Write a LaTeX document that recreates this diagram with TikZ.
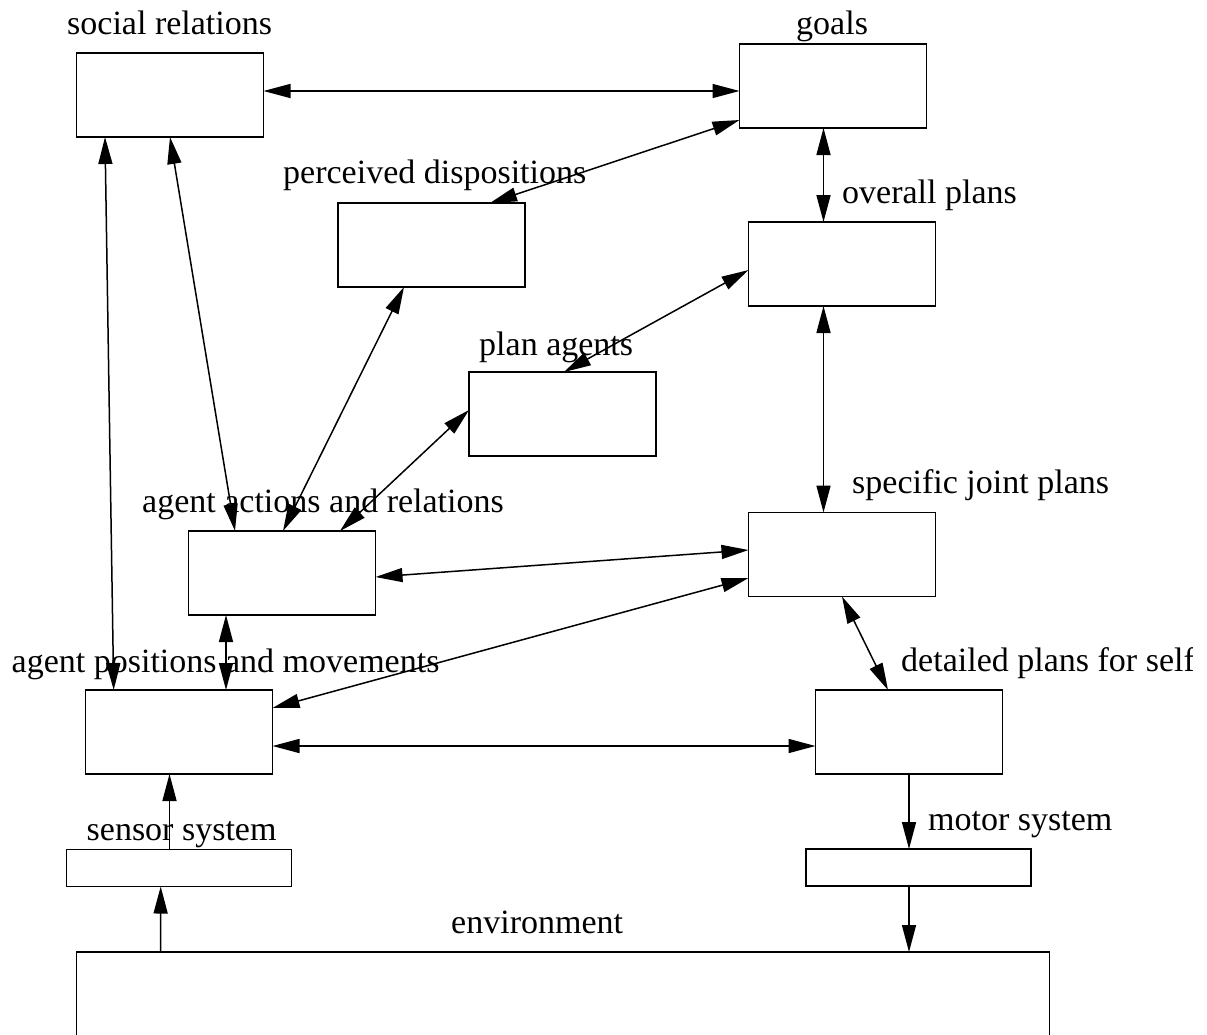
\documentclass[tikz,border=0pt]{standalone}
\usepackage{fontspec}
\setmainfont{Liberation Serif}
\usetikzlibrary{arrows.meta}
\begin{document}
\begin{tikzpicture}[x=1pt,y=-1pt,
  mainbox/.style={draw, line width=1.6pt, minimum width=187pt, minimum height=84pt, inner sep=0pt, outer sep=0pt},
  slimbox/.style={mainbox, minimum width=225pt, minimum height=37pt},
  lbl/.style={anchor=base west, inner sep=0pt, font=\fontsize{34}{40}\selectfont},
  link/.style={line width=1.5pt, {Triangle[length=27pt,width=14pt]}-{Triangle[length=27pt,width=14pt]}},
  one/.style={line width=1.5pt, -{Triangle[length=27pt,width=14pt]}}]
\useasboundingbox (0,0) rectangle (1207,1034);
\fill[white] (0,0) rectangle (1207,1034);
\clip (0,0) rectangle (1192,1034);

% boxes
\node[mainbox] (soc)   at (170,95)    {};
\node[mainbox] (goals) at (833,86)    {};
\node[mainbox] (perc)  at (431.5,245) {};
\node[mainbox] (over)  at (842,264)   {};
\node[mainbox] (plan)  at (562.5,414) {};
\node[mainbox] (spec)  at (842,554.5) {};
\node[mainbox] (act)   at (282,573)   {};
\node[mainbox] (pos)   at (179,732)   {};
\node[mainbox] (det)   at (909,732)   {};
\node[slimbox] (sen)   at (179,868)   {};
\node[slimbox] (mot)   at (918.5,867.5) {};
\node[mainbox, minimum width=973pt, minimum height=148pt] (env) at (563,1026) {};

% labels
\node[lbl] (lsoc)   at (67,34)    {social relations};
\node[lbl] (lgoals) at (796,34)   {goals};
\node[lbl] (lperc)  at (283,183)  {perceived dispositions};
\node[lbl] (lover)  at (842,203)  {overall plans};
\node[lbl] (lplan)  at (479,355)  {plan agents};
\node[lbl] (lact)   at (142,512)  {agent actions and relations};
\node[lbl] (lpos)   at (11.5,672) {agent positions and movements};
\node[lbl] (lspec)  at (852,493)  {specific joint plans};
\node[lbl] (ldet)   at (901,671)  {detailed plans for self};
\node[lbl] (lsen)   at (86.5,840) {sensor system};
\node[lbl] (lmot)   at (928,830)  {motor system};
\node[lbl] (lenv)   at (451,933)  {environment};

% connectors
\draw[link] ([yshift=4pt]soc.east) -- ([yshift=-5pt]goals.west);
\draw[link] ([xshift=58.5pt]perc.north) -- ([yshift=-34pt]goals.west);
\draw[link] ([xshift=-9.5pt]goals.south) -- ([xshift=-18.5pt]over.north);
\draw[link] ([xshift=1.5pt]plan.north) -- ([yshift=-6pt]over.west);
\draw[link] ([xshift=-18.5pt]over.south) -- ([xshift=-18.5pt]spec.north);
\draw[link] ([xshift=-65pt]soc.south) -- ([xshift=-65.3pt]pos.north);
\draw[link] (soc.south) -- ([xshift=-47pt]act.north);
\draw[link] ([xshift=-27.5pt]perc.south) -- ([xshift=1pt]act.north);
\draw[link] ([yshift=4pt]plan.west) -- ([xshift=58pt]act.north);
\draw[link] ([yshift=-4pt]act.east) -- ([yshift=4.5pt]spec.west);
\draw[link] ([xshift=-56pt]act.south) -- ([xshift=47pt]pos.north);
\draw[link] ([yshift=24pt]pos.east) -- ([yshift=-23.5pt]spec.west);
\draw[link] (spec.south) -- ([xshift=-21pt]det.north);
\draw[link] ([yshift=-14pt]pos.east) -- ([yshift=-14pt]det.west);
\draw[one] ([xshift=-9.5pt]sen.north) -- ([xshift=-9.5pt]pos.south);
\draw[one] ([xshift=84pt]env.north west) -- ([xshift=-18.3pt]sen.south);
\draw[one] (det.south) -- ([xshift=-9.5pt]mot.north);
\draw[one] ([xshift=-9.5pt]mot.south) -- ([xshift=832.5pt]env.north west);
\end{tikzpicture}
\end{document}
